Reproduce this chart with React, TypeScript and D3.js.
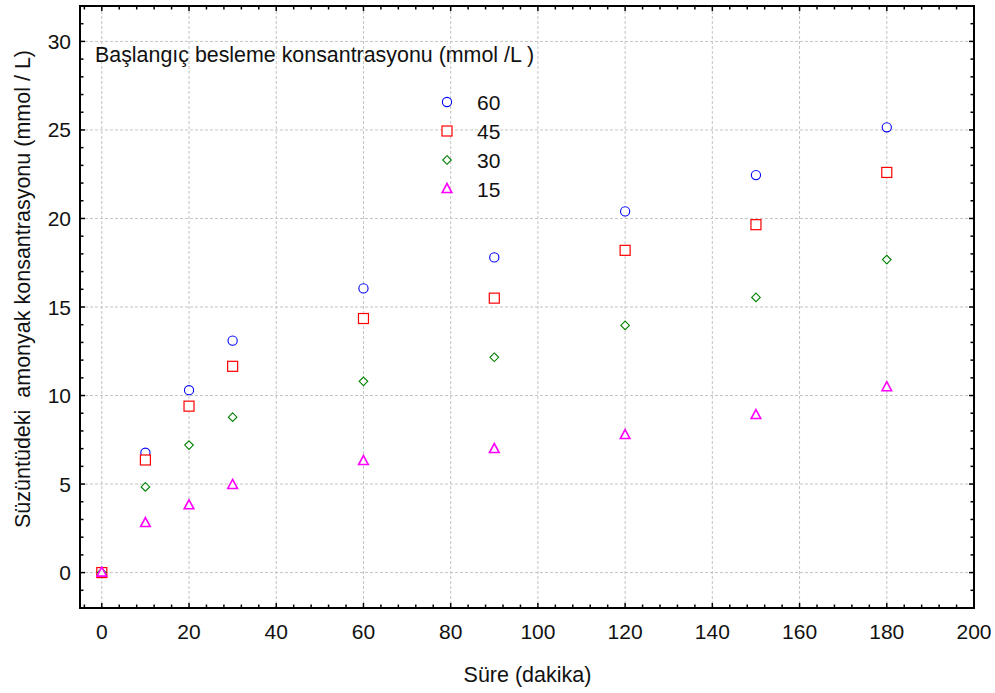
import React from "react";
import * as d3 from "d3";

const times = [0, 10, 20, 30, 60, 90, 120, 150, 180];
const series60 = [0, 6.77, 10.3, 13.1, 16.05, 17.8, 20.4, 22.45, 25.15];
const series45 = [0, 6.36, 9.4, 11.65, 14.35, 15.5, 18.2, 19.65, 22.6];
const series30 = [0, 4.84, 7.2, 8.78, 10.8, 12.16, 13.96, 15.54, 17.68];
const series15 = [0, 2.8, 3.8, 4.95, 6.3, 6.98, 7.77, 8.9, 10.47];
const seriesLabels = ["60", "45", "30", "15"];
const xTicks = [0, 20, 40, 60, 80, 100, 120, 140, 160, 180, 200];
const yTicks = [0, 5, 10, 15, 20, 25, 30];

const W = 995;
const H = 693;
const FONT = "'Liberation Sans', Arial, sans-serif";

type Shape = "circle" | "square" | "diamond" | "triangle";

function Marker({ shape, x, y, color }: { shape: Shape; x: number; y: number; color: string }) {
  if (shape === "circle") {
    return <circle cx={x} cy={y} r={4.6} fill="white" stroke={color} strokeWidth={1.1} />;
  }
  if (shape === "square") {
    return <rect x={x - 5} y={y - 5} width={10} height={10} fill="white" stroke={color} strokeWidth={1.2} />;
  }
  if (shape === "diamond") {
    const s = 4.3;
    return (
      <path
        d={`M${x},${y - s}L${x + s},${y}L${x},${y + s}L${x - s},${y}Z`}
        fill="white"
        stroke={color}
        strokeWidth={1.1}
      />
    );
  }
  return (
    <path
      d={`M${x},${y - 5.5}L${x + 4.8},${y + 3.5}L${x - 4.8},${y + 3.5}Z`}
      fill="white"
      stroke={color}
      strokeWidth={1.6}
    />
  );
}

export default function App() {
  const x = d3.scaleLinear().domain([-5, 200]).range([80, 974]);
  const y = d3.scaleLinear().domain([-2, 32]).range([608, 6]);

  const series = [
    { label: seriesLabels[0], values: series60, color: "#0000ff", shape: "circle" as Shape },
    { label: seriesLabels[1], values: series45, color: "#ff0000", shape: "square" as Shape },
    { label: seriesLabels[2], values: series30, color: "#008000", shape: "diamond" as Shape },
    { label: seriesLabels[3], values: series15, color: "#ff00ff", shape: "triangle" as Shape },
  ];

  const xMinor = d3.range(-4, 200.1, 4);
  const yMinor = d3.range(-2, 32.1, 1);
  const [x0, x1] = x.range();
  const [y0, y1] = y.range();

  return (
    <svg
      width={W}
      height={H}
      style={{ position: "absolute", left: 0, top: 0, background: "white" }}
      fontFamily={FONT}
    >
      <rect x={0} y={0} width={W} height={H} fill="white" />
      {/* grid */}
      {xTicks.filter((t) => t < 200).map((t) => (
        <line key={"gx" + t} x1={x(t)} x2={x(t)} y1={y1} y2={y0} stroke="#c4c4c4" strokeDasharray="3,2" strokeWidth={1} />
      ))}
      {yTicks.map((t) => (
        <line key={"gy" + t} x1={x0} x2={x1} y1={y(t)} y2={y(t)} stroke="#c4c4c4" strokeDasharray="3,2" strokeWidth={1} />
      ))}
      {/* ticks */}
      {xMinor.map((t) => {
        const major = t % 20 === 0;
        const len = major ? 5 : 3.5;
        return (
          <g key={"xm" + t}>
            <line x1={x(t)} x2={x(t)} y1={y0} y2={y0 - len} stroke="black" strokeWidth={1.5} />
            <line x1={x(t)} x2={x(t)} y1={y1} y2={y1 + len} stroke="black" strokeWidth={1.5} />
          </g>
        );
      })}
      {yMinor.map((t) => {
        const major = t % 5 === 0;
        const len = major ? 5 : 3.5;
        return (
          <g key={"ym" + t}>
            <line x1={x0} x2={x0 + len} y1={y(t)} y2={y(t)} stroke="black" strokeWidth={1.5} />
            <line x1={x1} x2={x1 - len} y1={y(t)} y2={y(t)} stroke="black" strokeWidth={1.5} />
          </g>
        );
      })}
      {/* frame */}
      <rect x={x0} y={y1} width={x1 - x0} height={y0 - y1} fill="none" stroke="black" strokeWidth={2} />
      {/* tick labels */}
      {xTicks.map((t) => (
        <text key={"xl" + t} x={x(t)} y={639} textAnchor="middle" fontSize={21} fill="#111">
          {t}
        </text>
      ))}
      {yTicks.map((t) => (
        <text key={"yl" + t} x={71} y={y(t)} textAnchor="end" dominantBaseline="central" fontSize={21} fill="#111">
          {t}
        </text>
      ))}
      {/* axis titles */}
      <text x={527.5} y={682} textAnchor="middle" fontSize={21.5} fill="#111">
        Süre (dakika)
      </text>
      <text
        transform={`translate(30,289) rotate(-90)`}
        textAnchor="middle"
        fontSize={21.5}
        fill="#111"
        style={{ whiteSpace: "pre" }}
      >
        {"Süzüntüdeki  amonyak konsantrasyonu (mmol / L)"}
      </text>
      {/* data */}
      {series.map((s) =>
        s.values.map((v, i) => (
          <Marker key={s.label + "-" + i} shape={s.shape} x={x(times[i])} y={y(v)} color={s.color} />
        ))
      )}
      {/* legend */}
      <text x={95} y={62} fontSize={21.4} fill="#111">
        Başlangıç besleme konsantrasyonu (mmol /L )
      </text>
      {series.map((s, i) => (
        <g key={"lg" + s.label}>
          <Marker shape={s.shape} x={447} y={102 + i * 29} color={s.color} />
          <text x={477} y={102 + i * 29} dominantBaseline="central" fontSize={21} fill="#111">
            {s.label}
          </text>
        </g>
      ))}
    </svg>
  );
}
